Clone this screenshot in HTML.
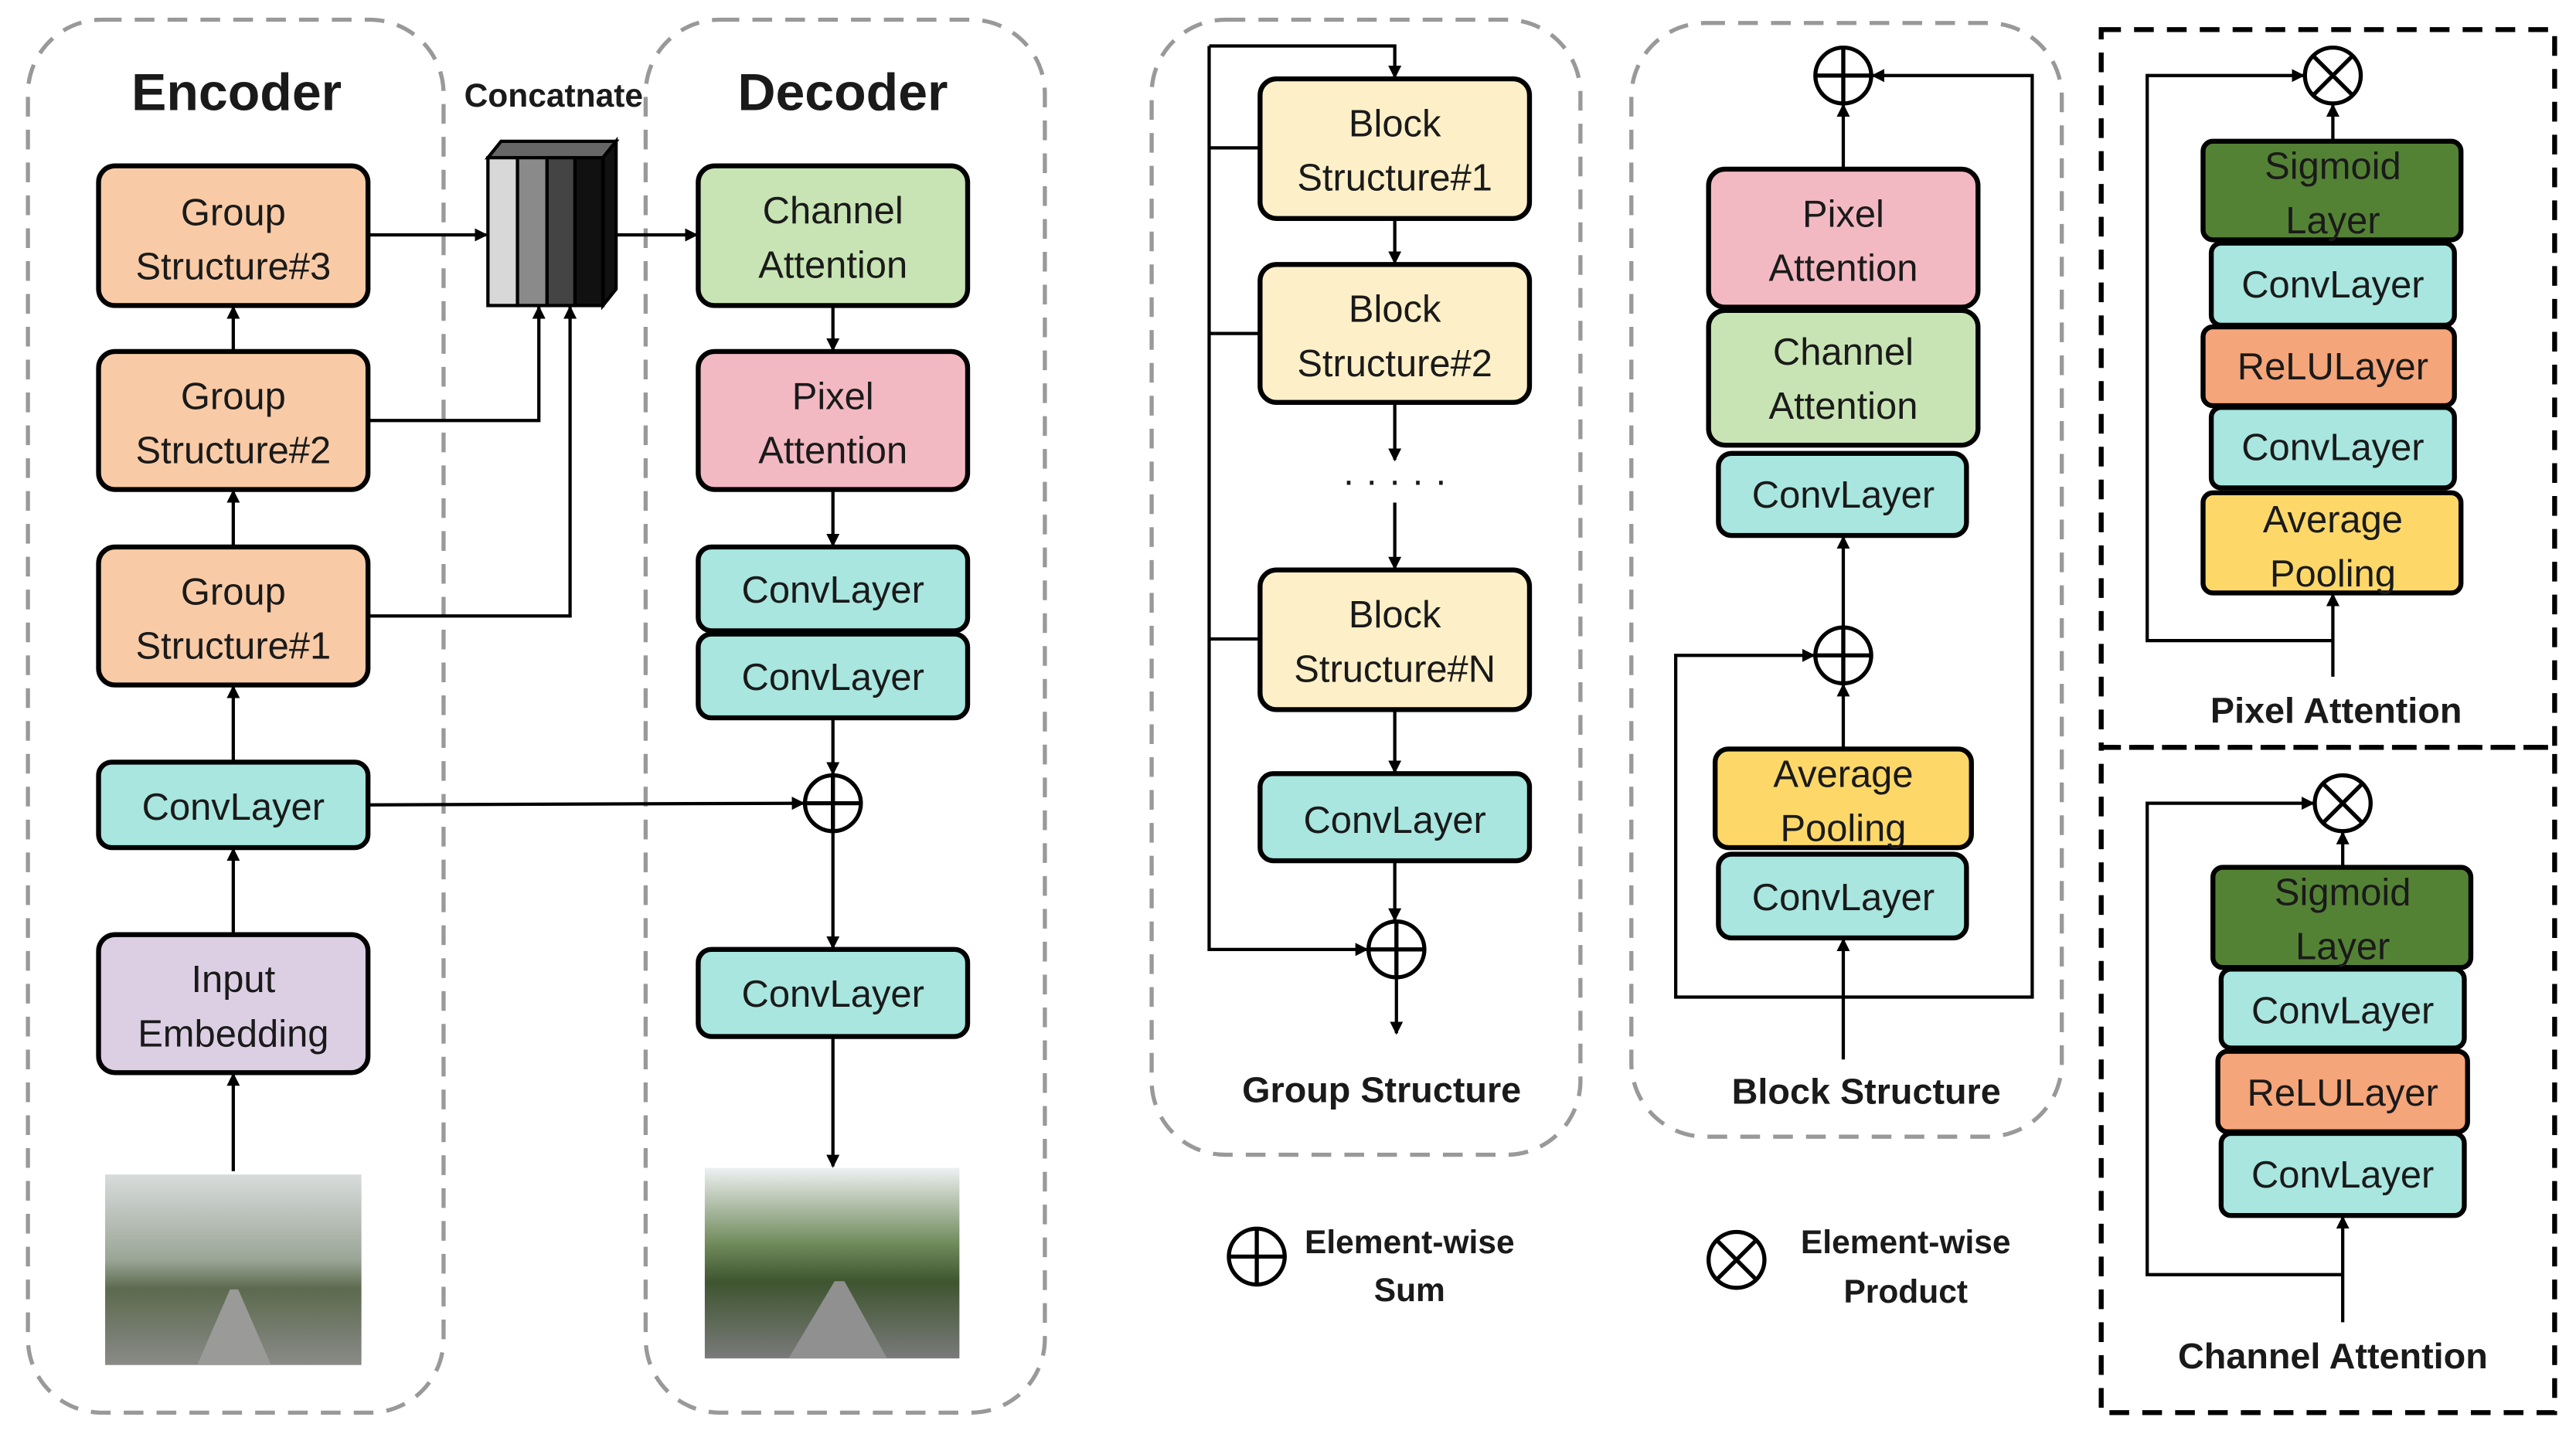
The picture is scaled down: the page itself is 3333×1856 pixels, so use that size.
<!DOCTYPE html>
<html><head><meta charset="utf-8"><style>
html,body{margin:0;padding:0;background:#fff}
svg{display:block}
text{font-family:"Liberation Sans",sans-serif;fill:#1a1a1a}
.n{font-size:23px;text-anchor:middle}
.b{font-weight:bold;text-anchor:middle}
</style></head><body>
<svg width="3333" height="1856" viewBox="0 0 1568 873" preserveAspectRatio="none" xmlns="http://www.w3.org/2000/svg">
<defs>
<marker id="a" markerWidth="8" markerHeight="8" refX="7" refY="4" orient="auto" markerUnits="userSpaceOnUse"><path d="M0,0 L8,4 L0,8 z" fill="#000"/></marker>
<linearGradient id="sky" x1="0" y1="0" x2="0" y2="1"><stop offset="0" stop-color="#d8dcdc"/><stop offset="0.45" stop-color="#9aa596"/><stop offset="0.6" stop-color="#5c6a4e"/><stop offset="1" stop-color="#8a8a88"/></linearGradient>
<linearGradient id="sky2" x1="0" y1="0" x2="0" y2="1"><stop offset="0" stop-color="#eef0f2"/><stop offset="0.4" stop-color="#6f8a5a"/><stop offset="0.6" stop-color="#3e5530"/><stop offset="1" stop-color="#7a7a7a"/></linearGradient>
</defs>
<g fill="none" stroke="#999" stroke-width="2.5" stroke-dasharray="12,8">
<rect x="17" y="12" width="253" height="848" rx="45"/>
<rect x="393" y="12" width="243" height="848" rx="45"/>
<rect x="701" y="12" width="261" height="691" rx="45"/>
<rect x="993" y="14" width="262" height="678" rx="45"/>
</g>
<g fill="none" stroke="#000" stroke-width="3" stroke-dasharray="12,8">
<rect x="1279" y="18" width="276" height="437"/>
<rect x="1279" y="455" width="276" height="405"/>
</g>
<text class="b" x="144" y="67" font-size="32">Encoder</text>
<text class="b" x="513" y="67" font-size="32">Decoder</text>
<text class="b" x="337" y="65" font-size="20">Concatnate</text>
<g stroke="#000" stroke-width="3">
<rect x="60" y="101" width="164" height="85" rx="10" fill="#f8cba6"/>
<rect x="60" y="214" width="164" height="84" rx="10" fill="#f8cba6"/>
<rect x="60" y="333" width="164" height="84" rx="10" fill="#f8cba6"/>
<rect x="60" y="464" width="164" height="52" rx="8" fill="#a8e6df"/>
<rect x="60" y="569" width="164" height="84" rx="10" fill="#dccfe4"/>
<rect x="425" y="101" width="164" height="85" rx="10" fill="#c8e4b4"/>
<rect x="425" y="214" width="164" height="84" rx="10" fill="#f3b9c2"/>
<rect x="425" y="333" width="164" height="51" rx="8" fill="#a8e6df"/>
<rect x="425" y="386" width="164" height="51" rx="8" fill="#a8e6df"/>
<rect x="425" y="578" width="164" height="53" rx="8" fill="#a8e6df"/>
<rect x="767" y="48" width="164" height="85" rx="10" fill="#fdf0c8"/>
<rect x="767" y="161" width="164" height="84" rx="10" fill="#fdf0c8"/>
<rect x="767" y="347" width="164" height="85" rx="10" fill="#fdf0c8"/>
<rect x="767" y="471" width="164" height="53" rx="8" fill="#a8e6df"/>
<rect x="1040" y="103" width="164" height="84" rx="10" fill="#f3b9c2"/>
<rect x="1040" y="189" width="164" height="82" rx="10" fill="#c8e4b4"/>
<rect x="1046" y="276" width="151" height="50" rx="8" fill="#a8e6df"/>
<rect x="1044" y="456" width="156" height="60" rx="8" fill="#fdd868"/>
<rect x="1046" y="520" width="151" height="51" rx="8" fill="#a8e6df"/>
<rect x="1341" y="86" width="157" height="60" rx="6" fill="#548235"/>
<rect x="1346" y="148" width="148" height="50" rx="6" fill="#a8e6df"/>
<rect x="1341" y="199" width="153" height="48" rx="6" fill="#f4a57a"/>
<rect x="1346" y="248" width="148" height="49" rx="6" fill="#a8e6df"/>
<rect x="1341" y="300" width="157" height="61" rx="6" fill="#fdd868"/>
<rect x="1347" y="528" width="157" height="61" rx="6" fill="#548235"/>
<rect x="1352" y="590" width="148" height="48" rx="6" fill="#a8e6df"/>
<rect x="1350" y="640" width="152" height="49" rx="6" fill="#f4a57a"/>
<rect x="1352" y="690" width="148" height="50" rx="6" fill="#a8e6df"/>
</g>
<g class="n">
<text class="n" x="142" y="137">Group</text><text class="n" x="142" y="170">Structure#3</text>
<text class="n" x="142" y="249">Group</text><text class="n" x="142" y="282">Structure#2</text>
<text class="n" x="142" y="368">Group</text><text class="n" x="142" y="401">Structure#1</text>
<text class="n" x="142" y="499">ConvLayer</text>
<text class="n" x="142" y="604">Input</text><text class="n" x="142" y="637">Embedding</text>
<text class="n" x="507" y="136">Channel</text><text class="n" x="507" y="169">Attention</text>
<text class="n" x="507" y="249">Pixel</text><text class="n" x="507" y="282">Attention</text>
<text class="n" x="507" y="367">ConvLayer</text>
<text class="n" x="507" y="420">ConvLayer</text>
<text class="n" x="507" y="613">ConvLayer</text>
<text class="n" x="849" y="83">Block</text><text class="n" x="849" y="116">Structure#1</text>
<text class="n" x="849" y="196">Block</text><text class="n" x="849" y="229">Structure#2</text>
<text class="n" x="849" y="382">Block</text><text class="n" x="849" y="415">Structure#N</text>
<text class="n" x="849" y="507">ConvLayer</text>
<text class="n" x="1122" y="138">Pixel</text><text class="n" x="1122" y="171">Attention</text>
<text class="n" x="1122" y="222">Channel</text><text class="n" x="1122" y="255">Attention</text>
<text class="n" x="1122" y="309">ConvLayer</text>
<text class="n" x="1122" y="479">Average</text><text class="n" x="1122" y="512">Pooling</text>
<text class="n" x="1122" y="554">ConvLayer</text>
<text class="n" x="1420" y="109">Sigmoid</text><text class="n" x="1420" y="142">Layer</text>
<text class="n" x="1420" y="181">ConvLayer</text>
<text class="n" x="1420" y="231">ReLULayer</text>
<text class="n" x="1420" y="280">ConvLayer</text>
<text class="n" x="1420" y="324">Average</text><text class="n" x="1420" y="357">Pooling</text>
<text class="n" x="1426" y="551">Sigmoid</text><text class="n" x="1426" y="584">Layer</text>
<text class="n" x="1426" y="623">ConvLayer</text>
<text class="n" x="1426" y="673">ReLULayer</text>
<text class="n" x="1426" y="723">ConvLayer</text>
</g>
<text class="n" x="849" y="300" font-size="26">· · · · ·</text>
<text class="b" x="841" y="671" font-size="22">Group Structure</text>
<text class="b" x="1136" y="672" font-size="22">Block Structure</text>
<text class="b" x="1422" y="440" font-size="22">Pixel Attention</text>
<text class="b" x="1420" y="833" font-size="22">Channel Attention</text>
<text class="b" x="858" y="763" font-size="20">Element-wise</text><text class="b" x="858" y="792" font-size="20">Sum</text>
<text class="b" x="1160" y="763" font-size="20">Element-wise</text><text class="b" x="1160" y="793" font-size="20">Product</text>
<g stroke="#000" stroke-width="2">
<polygon points="297,96 305,86 375,86 367,96" fill="#666"/>
<polygon points="367,96 375,86 375,176 367,186" fill="#111"/>
<rect x="297" y="96" width="18" height="90" fill="#d8d8d8"/>
<rect x="315" y="96" width="18" height="90" fill="#8a8a8a"/>
<rect x="333" y="96" width="17" height="90" fill="#444"/>
<rect x="350" y="96" width="17" height="90" fill="#111"/>
</g>
<rect x="64" y="715" width="156" height="116" fill="url(#sky)"/>
<polygon points="120,831 165,831 145,785 140,785" fill="#9a9a98"/>
<rect x="429" y="711" width="155" height="116" fill="url(#sky2)"/>
<polygon points="480,827 540,827 514,780 508,780" fill="#909090"/>
<g stroke="#000" stroke-width="2" fill="none" marker-end="url(#a)">
<line x1="142" y1="713" x2="142" y2="654"/>
<line x1="142" y1="569" x2="142" y2="517"/>
<line x1="142" y1="464" x2="142" y2="418"/>
<line x1="142" y1="333" x2="142" y2="299"/>
<line x1="142" y1="214" x2="142" y2="187"/>
<line x1="224" y1="143" x2="296" y2="143"/>
<polyline points="224,256 328,256 328,187"/>
<polyline points="224,375 347,375 347,187"/>
<line x1="375" y1="143" x2="424" y2="143"/>
<line x1="224" y1="490" x2="489" y2="489"/>
<line x1="507" y1="186" x2="507" y2="213"/>
<line x1="507" y1="298" x2="507" y2="332"/>
<line x1="507" y1="437" x2="507" y2="471"/>
<line x1="507" y1="506" x2="507" y2="577"/>
<line x1="507" y1="631" x2="507" y2="710"/>
<polyline points="736,28 849,28 849,47"/>
<line x1="849" y1="133" x2="849" y2="160"/>
<line x1="849" y1="245" x2="849" y2="280"/>
<line x1="849" y1="306" x2="849" y2="346"/>
<line x1="849" y1="432" x2="849" y2="470"/>
<line x1="849" y1="524" x2="849" y2="560"/>
<polyline points="736,28 736,578 832,578"/>
<line x1="850" y1="595" x2="850" y2="629"/>
<line x1="1122" y1="645" x2="1122" y2="572"/>
<line x1="1122" y1="456" x2="1122" y2="417"/>
<line x1="1122" y1="382" x2="1122" y2="327"/>
<line x1="1122" y1="103" x2="1122" y2="64"/>
<polyline points="1122,607 1020,607 1020,399 1104,399"/>
<polyline points="1122,607 1237,607 1237,46 1140,46"/>
<line x1="1420" y1="412" x2="1420" y2="362"/>
<line x1="1420" y1="86" x2="1420" y2="64"/>
<polyline points="1420,390 1307,390 1307,46 1402,46"/>
<line x1="1426" y1="805" x2="1426" y2="741"/>
<line x1="1426" y1="528" x2="1426" y2="507"/>
<polyline points="1426,776 1307,776 1307,489 1408,489"/>
</g>
<g stroke="#000" stroke-width="2" fill="none">
<line x1="736" y1="90" x2="767" y2="90"/>
<line x1="736" y1="203" x2="767" y2="203"/>
<line x1="736" y1="389" x2="767" y2="389"/>
</g>
<g stroke="#000" stroke-width="2.5" fill="#fff">
<g><circle cx="507" cy="489" r="17"/><path d="M490,489H524M507,472V506"/></g>
<g><circle cx="850" cy="578" r="17"/><path d="M833,578H867M850,561V595"/></g>
<g><circle cx="1122" cy="46" r="17"/><path d="M1105,46H1139M1122,29V63"/></g>
<g><circle cx="1122" cy="399" r="17"/><path d="M1105,399H1139M1122,382V416"/></g>
<g><circle cx="765" cy="765" r="17"/><path d="M748,765H782M765,748V782"/></g>
<g><circle cx="1420" cy="46" r="17"/><path d="M1408,34L1432,58M1432,34L1408,58"/></g>
<g><circle cx="1426" cy="489" r="17"/><path d="M1414,477L1438,501M1438,477L1414,501"/></g>
<g><circle cx="1057" cy="767" r="17"/><path d="M1045,755L1069,779M1069,755L1045,779"/></g>
</g>
</svg>
</body></html>
